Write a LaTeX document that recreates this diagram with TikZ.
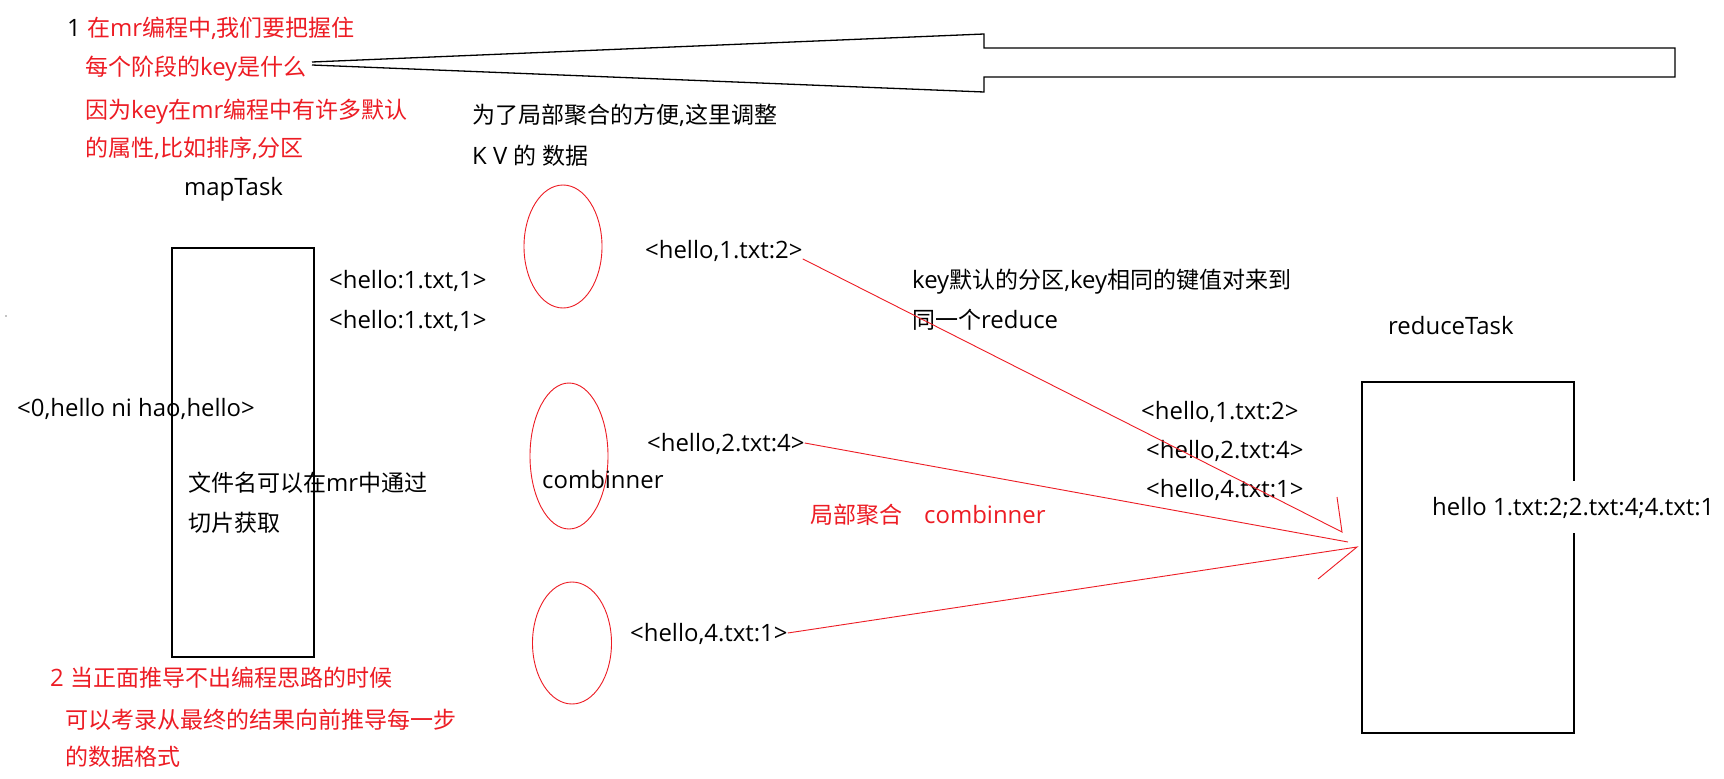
\documentclass[tikz,border=0pt]{standalone}
\usepackage{fontspec}
\setmainfont{Open Sans}[Scale=1.04]
\newfontfamily\cjkfont{Noto Sans CJK SC}
\newcommand\zh[1]{{\cjkfont #1}}
\usetikzlibrary{shapes.geometric}
\definecolor{myred}{RGB}{237,28,36}
\begin{document}
\begin{tikzpicture}[x=1pt,y=-1pt,
  txt/.style={anchor=west,inner sep=0pt,text height=17.4pt,text depth=0pt,font=\fontsize{23}{28}\selectfont},
  rtxt/.style={txt,text=myred},
  box/.style={draw=black,line width=1.3pt,inner sep=0pt},
  oval/.style={draw=myred,line width=0.9pt,ellipse,inner sep=0pt},
  link/.style={draw=myred,line width=0.9pt},
  bigarrow/.style={draw=black,line width=1.3pt,line join=miter}]
\useasboundingbox (0,0) rectangle (1724,779);
\fill[white] (0,0) rectangle (1724,779);

% big hollow arrow
\draw[bigarrow] (312,65) -- (984,92) -- (984,77) -- (1675,77) -- (1675,48) -- (984,48) -- (984,34) -- (312,62);

% boxes
\node[box,minimum width=142pt,minimum height=409pt] (map) at (243,452.5) {};
\node[box,minimum width=212pt,minimum height=351pt] (red) at (1468,557.5) {};

% ellipses
\node[oval,minimum width=78pt,minimum height=123pt] (e1) at (563,246.5) {};
\node[oval,minimum width=78pt,minimum height=146pt] (e2) at (569,456) {};
\node[oval,minimum width=79pt,minimum height=122pt] (e3) at (572,643) {};

% notes
\node[txt] (n1) at (67,28) {1 \textcolor{myred}{\zh{在}mr\zh{编程中},\zh{我们要把握住}}};
\node[rtxt] (n2) at (85,67) {\zh{每个阶段的}key\zh{是什么}};
\node[rtxt] (n3) at (85,110) {\zh{因为}key\zh{在}mr\zh{编程中有许多默认}};
\node[rtxt] (n4) at (85,148) {\zh{的属性},\zh{比如排序},\zh{分区}};
\node[txt] (maptask) at (184,187) {mapTask};
\node[txt] (kv1) at (472,115) {\zh{为了局部聚合的方便},\zh{这里调整}};
\node[txt] (kv2) at (472,156) {K V \zh{的} \zh{数据}};
\node[txt] (m1) at (329,280) {<hello:1.txt,1>};
\node[txt] (m2) at (329,320) {<hello:1.txt,1>};
\node[txt] (inp) at (17,408) {<0,hello ni hao,hello>};
\node[txt] (fn1) at (188,483) {\zh{文件名可以在}mr\zh{中通过}};
\node[txt] (fn2) at (188,523) {\zh{切片获取}};
\node[txt] (h12) at (645,250) {<hello,1.txt:2>};
\node[txt] (h24) at (647,443) {<hello,2.txt:4>};
\node[txt] (comb) at (542,480) {combinner};
\node[txt] (h41) at (630,633) {<hello,4.txt:1>};
\node[txt] (part1) at (912,280) {key\zh{默认的分区},key\zh{相同的键值对来到}};
\node[txt] (part2) at (912,320) {\zh{同一个}reduce};
\node[txt] (redtask) at (1388,326) {reduceTask};
\node[txt] (r1) at (1141,411) {<hello,1.txt:2>};
\node[txt] (r2) at (1146,450) {<hello,2.txt:4>};
\node[txt] (r3) at (1146,489) {<hello,4.txt:1>};
\node[rtxt] (local) at (810,515) {\zh{局部聚合}\hspace{22pt}combinner};
\node[txt,fill=white,inner xsep=2pt,inner ysep=17pt] (res) at (1430,507) {hello 1.txt:2;2.txt:4;4.txt:1};
\node[rtxt] (b1) at (50,678) {2 \zh{当正面推导不出编程思路的时候}};
\node[rtxt] (b2) at (65,720) {\zh{可以考录从最终的结果向前推导每一步}};
\node[rtxt] (b3) at (65,757) {\zh{的数据格式}};

% red connectors
\coordinate (t1) at (1342,532);
\coordinate (k1) at (1337,497);
\coordinate (t2) at (1348,542);
\coordinate (t3) at (1357,547);
\coordinate (k3) at (1318,579);
\draw[link] (h12.south east) -- (t1) -- (k1);
\draw[link] (h24.east) -- (t2);
\draw[link] (h41.east) -- (t3) -- (k3);

% stray dot
\fill[black] (6,316) circle (0.7pt);
\end{tikzpicture}
\end{document}
